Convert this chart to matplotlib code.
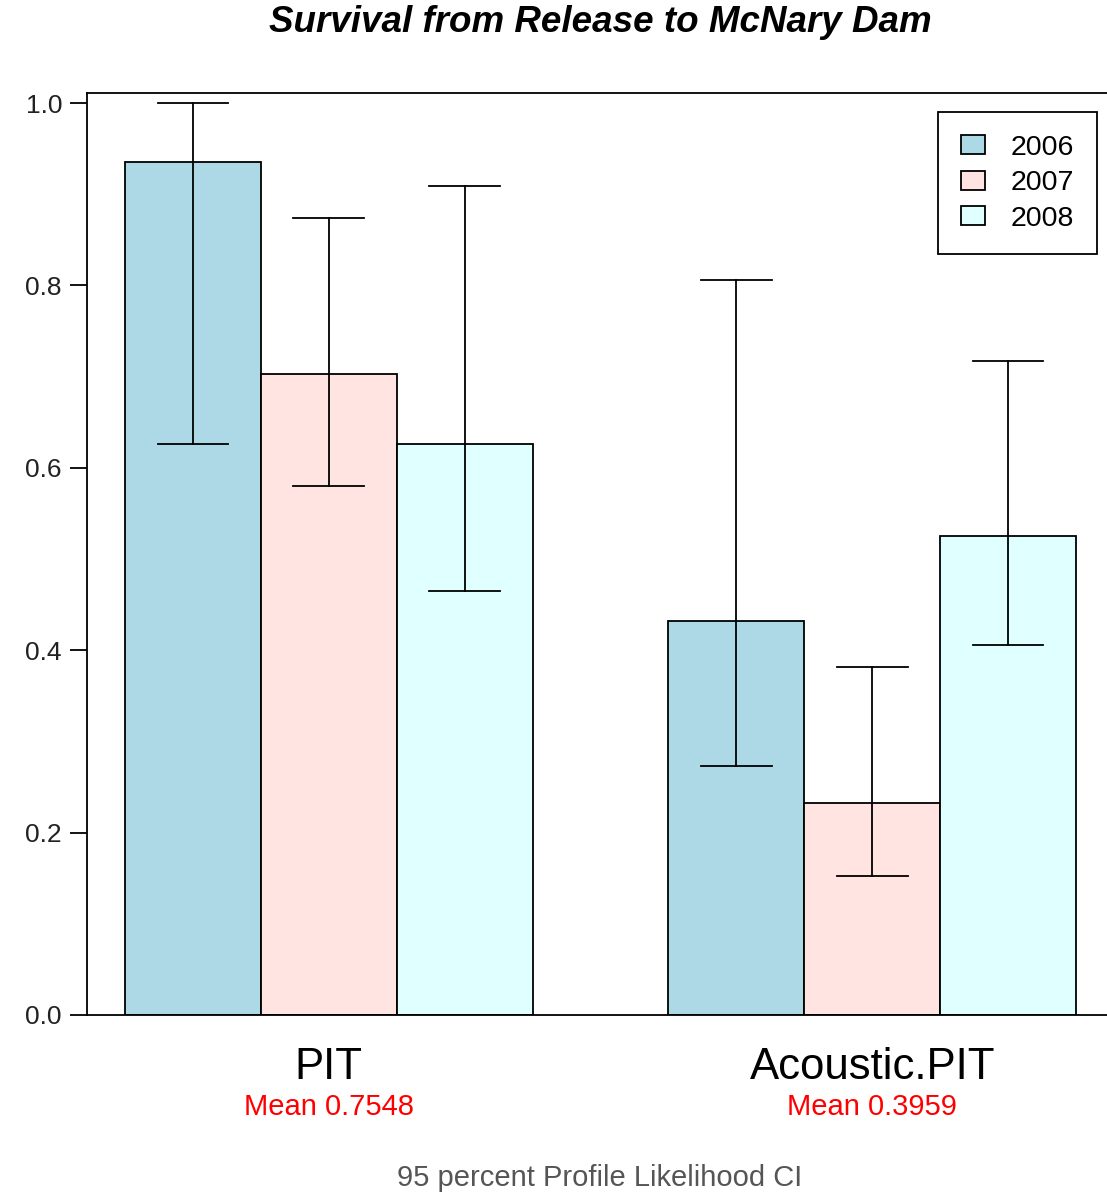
import matplotlib
matplotlib.use("Agg")
import matplotlib.pyplot as plt
from matplotlib.patches import Patch
import numpy as np

plt.rcParams['font.family'] = ['Liberation Sans', 'DejaVu Sans']

groups = ["PIT", "Acoustic.PIT"]
group_means = ["Mean 0.7548", "Mean 0.3959"]
years = ["2006", "2007", "2008"]
colors = ["#ADD8E6", "#FFE4E1", "#E0FFFF"]

# survival estimates, rows = years, columns = groups
survival = [[0.935, 0.432],
            [0.703, 0.232],
            [0.626, 0.525]]
lower_ci = [[0.626, 0.273],
            [0.580, 0.152],
            [0.465, 0.406]]
upper_ci = [[1.000, 0.806],
            [0.874, 0.382],
            [0.909, 0.717]]

yticks = [0.0, 0.2, 0.4, 0.6, 0.8, 1.0]

fig = plt.figure(figsize=(11.07, 11.94), dpi=100)
ax = fig.add_axes([87/1107, 179/1194, 1027/1107, 922/1194])

lw = 1.3
# R style barplot positions: width 1, space between groups 1
for g in range(len(groups)):
    for k in range(len(years)):
        xc = 1.5 + g*4 + k
        ax.bar(xc, survival[k][g], width=1.0, color=colors[k],
               edgecolor="black", linewidth=lw, zorder=2)
        ax.plot([xc, xc], [lower_ci[k][g], upper_ci[k][g]], color="black", lw=lw, zorder=3)
        for yv in (lower_ci[k][g], upper_ci[k][g]):
            ax.plot([xc-0.26, xc+0.26], [yv, yv], color="black", lw=lw, zorder=3)

ax.set_xlim(0.72, 8.28)
ax.set_ylim(0, 1.011)
ax.set_yticks(yticks)
ax.set_yticklabels(["%.1f" % v for v in yticks], fontsize=19, color="#222222")
ax.tick_params(axis="y", length=12, width=lw, pad=6)
ax.set_xticks([])
for s in ax.spines.values():
    s.set_linewidth(lw)

for g in range(len(groups)):
    xc = 2.5 + g*4
    ax.text(xc, -0.058, groups[g], ha="center", va="center", fontsize=31.5,
            clip_on=False)
    ax.text(xc, -0.101, group_means[g], ha="center", va="center", fontsize=21,
            color="red", clip_on=False)

fig.text(600/1107, 1 - 1178/1194, "95 percent Profile Likelihood CI",
         ha="center", va="center", fontsize=21, color="#555555")
fig.text(600/1107, 1 - 22/1194, "Survival from Release to McNary Dam",
         ha="center", va="center", fontsize=26.5, fontweight="bold", fontstyle="italic")

handles = [Patch(facecolor=c, edgecolor="black", linewidth=lw) for c in colors]
leg = ax.legend(handles, years, loc="upper right", fontsize=20.5,
                bbox_to_anchor=(1097/1107, 1 - 112/1194), bbox_transform=fig.transFigure,
                fancybox=False, framealpha=1, edgecolor="black",
                handlelength=0.85, handleheight=0.65, handletextpad=0.9,
                labelspacing=0.33, borderpad=0.8, borderaxespad=0)
leg.get_frame().set_linewidth(lw)

fig.savefig("out.png", dpi=100)
